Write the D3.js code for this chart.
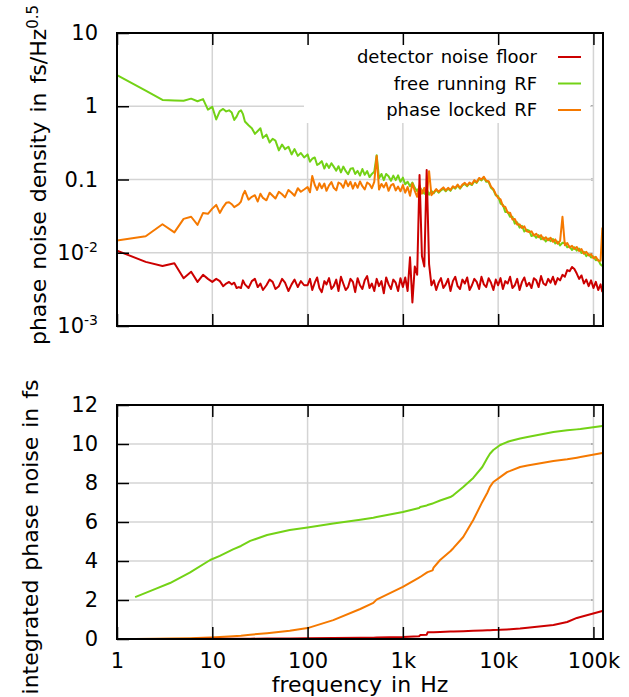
<!DOCTYPE html>
<html>
<head>
<meta charset="utf-8">
<script src="https://cdn.jsdelivr.net/npm/d3@7"></script>
<style>
  body { margin: 0; background: #fff; }
  text { font-family: "DejaVu Sans", sans-serif; }
</style>
</head>
<body>
<div id="chart"></div>
<script>
// spectral density, frequency bins in Hz
var freqHz = [1,2,3,4,5,6,7,8,9,10,11,12,13,14,15,16,17,18,19,20,21,22,24,26,28,30,32,34,37,40,43,46,50,54,58,63,68,73,79,85,92,
  100,106,112,119,126,133,141,150,158,168,178,188,200,211,224,237,251,266,282,299,316,335,355,376,398,422,447,473,501,531,562,596,631,668,708,750,794,841,891,944,
  1000,1059,1122,1189,1259,1334,1413,1496,1585,1679,1778,1884,1995,2113,2239,2371,2512,2661,2818,2985,3162,3350,3548,3758,3981,4217,4467,4732,5012,5309,5623,5957,6310,6683,7079,7499,7943,8414,8913,9441,
  10000,10593,11220,11885,12589,13335,14125,14962,15849,16788,17783,18836,19953,21135,22387,23714,25119,26607,28184,29854,31623,33497,35481,37584,39811,42170,44668,47315,50119,53088,56234,59566,63096,66834,70795,74989,79433,84140,89125,94406,
  100000,105925,112202,118850,124000];

var detectorFloor = [0.0107,0.0075,0.0066,0.0072,0.0045,0.0055,0.004,0.005,0.0044,0.004,0.0044,0.0041,0.0035,0.0038,0.004,0.0037,0.0039,0.0033,0.0034,0.0033,
  0.0042,0.0037,0.0033,0.0041,0.0044,0.0034,0.0038,0.0031,0.0036,0.0043,0.004,0.0032,0.0035,0.0044,0.0039,0.003,0.0037,0.0043,0.0034,0.0041,0.0036,
  0.0036,0.0044,0.0031,0.0039,0.0046,0.0033,0.0029,0.0041,0.0037,0.0045,0.0032,0.0035,0.0043,0.003,0.0047,0.0038,0.0031,0.0034,0.0044,0.004,
  0.0029,0.0045,0.0036,0.0032,0.0042,0.0048,0.0033,0.0038,0.003,0.0044,0.0035,0.0041,0.0028,0.0046,0.0037,0.0032,0.0043,0.0039,0.003,0.0045,
  0.0034,0.0046,0.003,0.0087,0.0021,0.0065,0.005,0.115,0.009,0.0065,0.135,0.007,0.0036,0.0042,0.0031,0.0039,0.0045,0.0033,0.0037,0.0044,
  0.003,0.0041,0.0047,0.0035,0.0032,0.0043,0.0038,0.0046,0.0031,0.0036,0.0044,0.004,0.0032,0.0047,0.0037,0.0034,0.0045,0.0039,0.0031,0.0043,
  0.0036,0.0045,0.0032,0.0041,0.0038,0.0047,0.0033,0.0036,0.0044,0.0031,0.004,0.0046,0.0035,0.0039,0.0033,0.0045,0.0042,0.0034,0.0048,0.0038,
  0.0036,0.0044,0.0039,0.0047,0.0037,0.0045,0.0042,0.005,0.0047,0.0058,0.0056,0.0064,0.006,0.0052,0.0044,0.0049,0.0038,0.0043,0.0035,0.0042,
  0.0033,0.004,0.0031,0.0037,0.0029];

var freeRunning = [2.67,1.64,1.22,1.2,1.19,1.27,1.17,1.25,0.90,0.98,0.66,0.86,0.92,0.85,0.88,0.82,0.65,0.72,0.84,0.88,0.78,0.62,0.55,0.5,0.42,0.46,0.5,0.37,0.41,0.32,0.36,0.34,0.25,0.3,0.26,0.28,0.22,0.26,0.21,0.23,0.2,
  0.22,0.175,0.192,0.2,0.158,0.165,0.178,0.141,0.165,0.144,0.167,0.15,0.132,0.152,0.125,0.15,0.131,0.118,0.14,0.143,
  0.119,0.131,0.113,0.139,0.116,0.13,0.108,0.119,0.128,0.215,0.104,0.119,0.098,0.119,0.111,0.096,0.113,0.098,0.114,0.093,
  0.106,0.086,0.093,0.081,0.091,0.077,0.069,0.079,0.071,0.064,0.074,0.062,0.07,0.065,0.072,0.066,0.071,0.075,0.069,0.075,
  0.07,0.079,0.075,0.083,0.075,0.083,0.087,0.081,0.088,0.084,0.095,0.09,0.102,0.097,0.106,0.093,0.093,0.077,0.072,0.061,
  0.059,0.047,0.045,0.036,0.036,0.031,0.031,0.025,0.026,0.022,0.0233,0.0195,0.0206,0.02,0.0169,0.0177,0.016,0.0174,0.0153,0.0161,
  0.0143,0.0156,0.0144,0.0154,0.0134,0.0142,0.0126,0.0137,0.0136,0.0119,0.0122,0.0109,0.0119,0.0107,0.0114,0.0099,0.0103,0.009,0.0096,0.0086,
  0.0089,0.0079,0.008,0.0069,0.0066];

var phaseLocked = [0.0147,0.0168,0.0245,0.019,0.029,0.031,0.024,0.035,0.034,0.04,0.045,0.035,0.042,0.048,0.049,0.046,0.042,0.044,0.046,0.05,0.062,
  0.07,0.053,0.058,0.061,0.05,0.064,0.056,0.052,0.066,0.06,0.055,0.068,0.063,0.057,0.072,0.066,0.06,0.076,0.068,0.073,
  0.079,0.067,0.112,0.084,0.072,0.089,0.076,0.088,0.07,0.083,0.092,0.077,0.071,0.091,0.087,0.077,0.097,0.081,0.093,0.075,
  0.09,0.077,0.094,0.081,0.073,0.091,0.086,0.076,0.093,0.21,0.073,0.087,0.078,0.09,0.07,0.083,0.087,0.071,0.08,0.069,
  0.084,0.066,0.079,0.06,0.088,0.07,0.058,0.083,0.064,0.077,0.057,0.13,0.061,0.067,0.074,0.068,0.073,0.078,0.071,0.077,
  0.072,0.081,0.077,0.085,0.077,0.085,0.09,0.083,0.091,0.086,0.098,0.092,0.105,0.1,0.109,0.096,0.095,0.08,0.074,0.063,
  0.056,0.0535,0.0435,0.0422,0.0353,0.0353,0.0284,0.0289,0.0243,0.0244,0.0218,0.0229,0.0196,0.0192,0.0196,0.0172,0.0182,0.0163,0.0174,0.0152,
  0.0163,0.0148,0.016,0.0141,0.0152,0.0133,0.0145,0.031,0.0127,0.0136,0.0118,0.0124,0.0113,0.012,0.0106,0.0112,0.0097,0.0103,0.0092,0.0096,
  0.0084,0.0088,0.0078,0.0078,0.022];

// integrated phase noise in fs
var intFreqHz = [1.55,2.5,3.6,5.8,9.5,12,16.5,20,25,37.6,65,100,186,357,490,530,1000,1480,1520,1780,1820,2050,2100,2460,3150,3400,4300,5480,6820,7700,8200,8900,10500,12400,13400,17000,20300,38000,53000,67000,73000,124000];
var intDetector = [0,0,0,0.005,0.01,0.01,0.012,0.015,0.018,0.022,0.03,0.035,0.045,0.06,0.07,0.075,0.1,0.14,0.2,0.22,0.34,0.35,0.35,0.36,0.38,0.38,0.4,0.42,0.44,0.45,0.45,0.46,0.47,0.49,0.5,0.54,0.58,0.72,0.87,1.08,1.13,1.44];
var intFree = [2.15,2.56,2.87,3.4,4.05,4.26,4.6,4.77,5.03,5.33,5.59,5.72,5.92,6.12,6.22,6.26,6.51,6.72,6.77,6.85,6.87,6.95,6.97,7.1,7.28,7.38,7.8,8.26,8.82,9.28,9.5,9.69,9.95,10.1,10.15,10.28,10.36,10.62,10.7,10.75,10.77,10.92];
var intLocked = [0,0.01,0.02,0.04,0.08,0.1,0.14,0.17,0.22,0.3,0.42,0.56,0.97,1.54,1.85,2.02,2.67,3.15,3.18,3.4,3.43,3.52,3.66,4.05,4.5,4.67,5.23,6.1,7.03,7.5,7.8,8.05,8.3,8.56,8.62,8.82,8.9,9.13,9.22,9.3,9.33,9.54];

var seriesNames = ["detector noise floor", "free running RF", "phase locked RF"];
var seriesColors = ["#cc0000", "#73d216", "#f57900"];

var xTicks = [1, 10, 100, 1000, 10000, 100000];
var xTickLabels = ["1", "10", "100", "1k", "10k", "100k"];
var yTopTicks = [0.001, 0.01, 0.1, 1, 10];
var yTopTickLabels = ["10^-3", "10^-2", "0.1", "1", "10"];
var yBotTicks = [0, 2, 4, 6, 8, 10, 12];

var width = 629, height = 697;
var left = 117, right = 603;
var topBox = {y0: 33, y1: 326};
var botBox = {y0: 405, y1: 639};

var svg = d3.select("#chart")
  .append("svg")
    .attr("width", width)
    .attr("height", height);

var x = d3.scaleLog().domain([1, 126000]).range([left, right]);
var yTop = d3.scaleLog().domain([0.001, 10]).range([topBox.y1, topBox.y0]);
var yBot = d3.scaleLinear().domain([0, 12]).range([botBox.y1, botBox.y0]);

var gridColor = "#d4d4d4";

function grid(box, yScale, yTicks) {
  // right side ticks sit under the grid, only their tip shows
  svg.append("g").selectAll("line").data(yTicks).enter().append("line")
    .attr("x1", right - 12).attr("x2", right - 10)
    .attr("y1", function(d) { return yScale(d); })
    .attr("y2", function(d) { return yScale(d); })
    .attr("stroke", "#000").attr("stroke-width", 1.5);
  svg.append("g").selectAll("line").data(xTicks.slice(1)).enter().append("line")
    .attr("x1", function(d) { return x(d); })
    .attr("x2", function(d) { return x(d); })
    .attr("y1", box.y0).attr("y2", box.y1)
    .attr("stroke", gridColor).attr("stroke-width", 1.5);
  svg.append("g").selectAll("line").data(yTicks).enter().append("line")
    .attr("x1", left).attr("x2", right - 10)
    .attr("y1", function(d) { return yScale(d); })
    .attr("y2", function(d) { return yScale(d); })
    .attr("stroke", gridColor).attr("stroke-width", 1.5);
}

function supText(sel, label, supSize) {
  var parts = label.split("^");
  sel.text(parts[0]);
  if (parts[1]) sel.append("tspan").attr("dy", -8).attr("font-size", supSize).text(parts[1]);
}

function axes(box, yScale, yTicks, yLabels, showX) {
  var gl = svg.append("g").attr("transform", "translate(" + left + ",0)")
    .call(d3.axisLeft(yScale).tickValues(yTicks).tickSize(-12).tickPadding(19)
      .tickFormat(function(d, i) { return yLabels[i]; }));
  var gb = svg.append("g").attr("transform", "translate(0," + box.y1 + ")")
    .call(d3.axisBottom(x).tickValues(xTicks).tickSize(-12).tickPadding(9)
      .tickFormat(function(d, i) { return showX ? xTickLabels[i] : ""; }));
  var gt = svg.append("g").attr("transform", "translate(0," + box.y0 + ")")
    .call(d3.axisTop(x).tickValues(xTicks).tickSize(-12).tickFormat(""));
  [gl, gb, gt].forEach(function(g) {
    g.select(".domain").remove();
    g.selectAll(".tick line").attr("stroke", "#000").attr("stroke-width", 1.5);
    g.selectAll("text").attr("font-size", 21).attr("fill", "#000")
      .attr("font-family", "DejaVu Sans");
  });
  gb.selectAll("text").attr("dy", "0.95em");
  gl.selectAll(".tick text").each(function() {
    var t = d3.select(this);
    supText(t, t.text(), 14);
  });
  svg.append("rect")
    .attr("x", left).attr("y", box.y0)
    .attr("width", right - left).attr("height", box.y1 - box.y0)
    .attr("fill", "none").attr("stroke", "#000").attr("stroke-width", 2);
}

function series(xs, ys) {
  return xs.map(function(f, i) { return [f, ys[i]]; });
}

// top panel: density
grid(topBox, yTop, yTopTicks);
svg.append("rect").attr("x", 304).attr("y", topBox.y0 + 1)
  .attr("width", 286).attr("height", 89).attr("fill", "#fff");

svg.append("clipPath").attr("id", "clipTop").append("rect")
  .attr("x", left).attr("y", topBox.y0).attr("width", right - left).attr("height", topBox.y1 - topBox.y0);
svg.append("clipPath").attr("id", "clipBot").append("rect")
  .attr("x", left).attr("y", botBox.y0).attr("width", right - left).attr("height", botBox.y1 - botBox.y0);

var lineTop = d3.line().x(function(d) { return x(d[0]); }).y(function(d) { return yTop(d[1]); });
var lineBot = d3.line().x(function(d) { return x(d[0]); }).y(function(d) { return yBot(d[1]); });

var topData = [series(freqHz, detectorFloor), series(freqHz, freeRunning), series(freqHz, phaseLocked)];
var botData = [series(intFreqHz, intDetector), series(intFreqHz, intFree), series(intFreqHz, intLocked)];
var drawOrder = [1, 2, 0];

drawOrder.forEach(function(k) {
  svg.append("path").datum(topData[k])
    .attr("clip-path", "url(#clipTop)")
    .attr("d", lineTop)
    .attr("fill", "none").attr("stroke", seriesColors[k])
    .attr("stroke-width", 2).attr("stroke-linejoin", "round");
});

axes(topBox, yTop, yTopTicks, yTopTickLabels, false);

// legend
seriesNames.forEach(function(name, i) {
  var ly = 57 + i * 26.5;
  svg.append("text").attr("x", 537).attr("y", ly + 6)
    .attr("text-anchor", "end").attr("font-size", 18).attr("word-spacing", 2)
    .text(name);
  svg.append("line").attr("x1", 558).attr("x2", 581).attr("y1", ly).attr("y2", ly)
    .attr("stroke", seriesColors[i]).attr("stroke-width", 2);
});

// bottom panel: integrated
grid(botBox, yBot, yBotTicks);
drawOrder.forEach(function(k) {
  svg.append("path").datum(botData[k])
    .attr("clip-path", "url(#clipBot)")
    .attr("d", lineBot)
    .attr("fill", "none").attr("stroke", seriesColors[k])
    .attr("stroke-width", 2).attr("stroke-linejoin", "round");
});
axes(botBox, yBot, yBotTicks, yBotTicks.map(String), true);

// axis titles
var t1 = svg.append("text")
  .attr("transform", "translate(46,175) rotate(-90)")
  .attr("text-anchor", "middle").attr("font-size", 22).attr("word-spacing", 2);
supText(t1, "phase noise density in fs/Hz^0.5", 15);

svg.append("text")
  .attr("transform", "translate(38,537) rotate(-90)")
  .attr("text-anchor", "middle").attr("font-size", 22).attr("word-spacing", 2)
  .text("integrated phase noise in fs");

svg.append("text")
  .attr("x", 360).attr("y", 692)
  .attr("text-anchor", "middle").attr("font-size", 22).attr("word-spacing", 2)
  .text("frequency in Hz");
</script>
</body>
</html>
